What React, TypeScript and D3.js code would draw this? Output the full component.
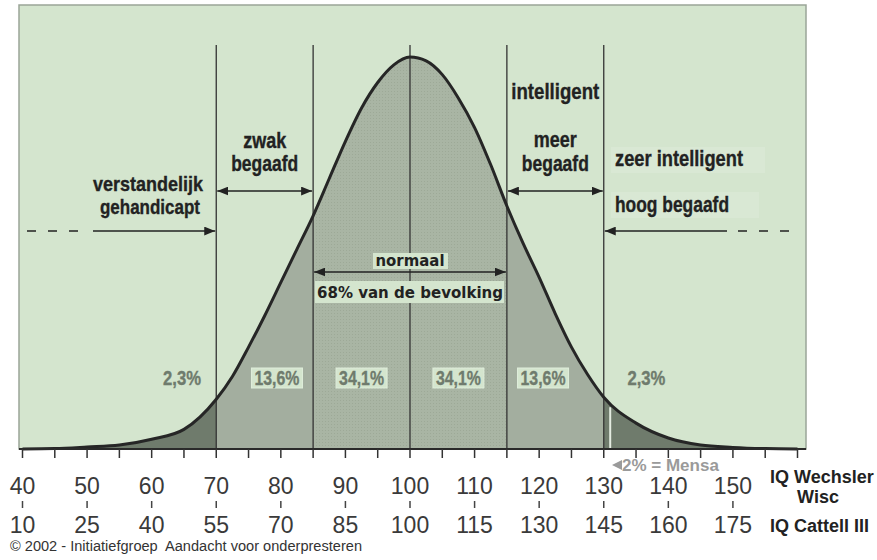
import React from "react";
import * as d3 from "d3";

// curve: relative frequency (peak = 100) per IQ (Wechsler)
const iqPoints = [40, 45, 50, 55, 60, 65, 70, 72.5, 75, 77.5, 80, 82.5, 85, 87.5, 90, 92.5, 95, 97.5, 100, 102.5, 105, 107.5, 110, 112.5, 115, 117.5, 120, 122.5, 125, 127.5, 130, 135, 140, 145, 150, 155, 160];
const frequency = [0, 0.1, 0.5, 1.0, 2.5, 5.0, 12.7, 18.5, 26, 34, 42.5, 51, 59.5, 69, 78.5, 87, 93.5, 98, 100, 99, 95.5, 89.5, 82, 72.5, 62, 52.5, 43.8, 34.5, 26, 19, 13.2, 6.6, 2.8, 1.0, 0.4, 0.1, 0];

// bands between the boundary lines
const bandEdges = [40, 70, 85, 115, 130, 160];
const bandKinds = ["tail", "side", "center", "side", "tail"];
const boundaries = [70, 85, 100, 115, 130];

// percentage labels (IQ position of each label)
const pctLabels = ["2,3%", "13,6%", "34,1%", "34,1%", "13,6%", "2,3%"];
const pctAt = [64.7, 79.4, 92.5, 107.5, 120.6, 136.6];
const pctBoxed = [false, true, true, true, true, false];

// axes
const wechslerTicks = d3.range(40, 161, 5);
const wechslerLabels = [40, 50, 60, 70, 80, 90, 100, 110, 120, 130, 140, 150];
const cattellLabels = [10, 25, 40, 55, 70, 85, 100, 115, 130, 145, 160, 175];
const mensaIQ = 131;

const cond = "'Liberation Sans', Arial, sans-serif";
const wide = "'DejaVu Sans', Verdana, sans-serif";
const sans = "'Liberation Sans', Arial, Helvetica, sans-serif";

const fills: Record<string, string> = {
  tail: "#6f7b6c",
  side: "#a3ae9f",
  center: "url(#dots)",
};

// condensed bold label, squeezed to the width it has in the original
const Label = ({ x, y, w, children, anchor = "middle", size = 21.5 }: any) => (
  <text
    x={x}
    y={y}
    textAnchor={anchor}
    textLength={w}
    lengthAdjust="spacingAndGlyphs"
    fontFamily={cond}
    fontWeight="bold"
    fontSize={size}
    fill="#222"
    stroke="#222"
    strokeWidth={0.35}
  >
    {children}
  </text>
);

export default function App() {
  const width = 877;
  const height = 560;
  const frame = { left: 19, top: 5, right: 806, bottom: 449 };

  const x = d3.scaleLinear().domain([40, 160]).range([22.5, 797.5]);
  const y = d3.scaleLinear().domain([0, 100]).range([frame.bottom, 57]);

  const pts: [number, number][] = iqPoints.map((d, i) => [d, frequency[i]]);

  const line = d3
    .line<[number, number]>()
    .x((d) => x(d[0]))
    .y((d) => y(d[1]))
    .curve(d3.curveMonotoneX);

  const area = d3
    .area<[number, number]>()
    .x((d) => x(d[0]))
    .y0(frame.bottom)
    .y1((d) => y(d[1]))
    .curve(d3.curveMonotoneX);

  const dark = "#222";
  const lineTop = 45;
  const arrowY1 = 191;
  const arrowY2 = 231;
  const midL = (x(70) + x(85)) / 2;
  const midR = (x(115) + x(130)) / 2;

  return (
    <div style={{ position: "absolute", left: 0, top: 0 }}>
      <svg width={width} height={height} style={{ display: "block", background: "#fff" }}>
        <defs>
          <marker
            id="arrow"
            viewBox="0 0 10 8"
            refX={10}
            refY={4}
            markerWidth={11}
            markerHeight={9}
            markerUnits="userSpaceOnUse"
            orient="auto-start-reverse"
          >
            <path d="M0,0 L10,4 L0,8 Z" fill={dark} />
          </marker>
          <pattern id="dots" width={3} height={3} patternUnits="userSpaceOnUse">
            <rect width={3} height={3} fill="#a9b5a4" />
            <rect x={1} y={1} width={1} height={1} fill="#9da997" />
          </pattern>
          {bandKinds.map((k, i) => (
            <clipPath id={`band${i}`} key={i}>
              <rect
                x={x(bandEdges[i])}
                y={0}
                width={x(bandEdges[i + 1]) - x(bandEdges[i])}
                height={frame.bottom}
              />
            </clipPath>
          ))}
        </defs>

        {/* plot background */}
        <rect
          x={frame.left}
          y={frame.top}
          width={frame.right - frame.left}
          height={frame.bottom - frame.top}
          fill="#d4e5ce"
          stroke="#9aa598"
          strokeWidth={1.5}
        />

        {/* area bands */}
        {bandKinds.map((k, i) => (
          <path key={i} d={area(pts) || ""} fill={fills[k]} clipPath={`url(#band${i})`} />
        ))}

        {/* mensa marker */}
        <line
          x1={x(mensaIQ)}
          x2={x(mensaIQ)}
          y1={y(13.2) + 10}
          y2={frame.bottom}
          stroke="#e4ece1"
          strokeWidth={2}
        />

        {/* boundary lines */}
        {boundaries.map((b) => (
          <line key={b} x1={x(b)} x2={x(b)} y1={lineTop} y2={frame.bottom} stroke="#333" strokeWidth={1.3} />
        ))}

        {/* curve */}
        <path d={line(pts) || ""} fill="none" stroke="#262626" strokeWidth={3} strokeLinejoin="round" />

        {/* percentages */}
        {pctLabels.map((t, i) => (
          <g key={i}>
            {pctBoxed[i] && (
              <rect
                x={x(pctAt[i]) - 25.5}
                y={368}
                width={51}
                height={20}
                fill="#d4e5ce"
                stroke="#dfeedb"
                strokeWidth={1}
              />
            )}
            <text
              x={x(pctAt[i])}
              y={385}
              textAnchor="middle"
              textLength={t.length > 4 ? 45 : 38}
              lengthAdjust="spacingAndGlyphs"
              fontFamily={cond}
              fontWeight="bold"
              fontSize={20}
              fill="#6f7b6d"
              stroke="#6f7b6d"
              strokeWidth={0.35}
            >
              {t}
            </text>
          </g>
        ))}

        {/* category labels */}
        <Label x={midL} y={148} w={43}>zwak</Label>
        <Label x={midL} y={171} w={67}>begaafd</Label>
        <Label x={148} y={191} w={110} size={20.5}>verstandelijk</Label>
        <Label x={150} y={214} w={100} size={20.5}>gehandicapt</Label>
        <Label x={midR} y={99} w={88}>intelligent</Label>
        <Label x={midR} y={147} w={43}>meer</Label>
        <Label x={midR} y={171} w={67}>begaafd</Label>

        <rect x={611} y={147} width={154} height={26} fill="#d9e8d4" />
        <rect x={611} y={192} width={148} height={26} fill="#d9e8d4" />
        <Label x={615} y={166} w={128} anchor="start">zeer intelligent</Label>
        <Label x={615} y={212} w={114} anchor="start">hoog begaafd</Label>

        {/* arrows */}
        <line
          x1={x(70) + 1}
          x2={x(85) - 1}
          y1={arrowY1}
          y2={arrowY1}
          stroke={dark}
          strokeWidth={1.5}
          markerStart="url(#arrow)"
          markerEnd="url(#arrow)"
        />
        <line
          x1={x(115) + 1}
          x2={x(130) - 1}
          y1={arrowY1}
          y2={arrowY1}
          stroke={dark}
          strokeWidth={1.5}
          markerStart="url(#arrow)"
          markerEnd="url(#arrow)"
        />
        <line x1={27} x2={88} y1={arrowY2} y2={arrowY2} stroke={dark} strokeWidth={1.5} strokeDasharray="9,12" />
        <line x1={93} x2={x(70) - 1} y1={arrowY2} y2={arrowY2} stroke={dark} strokeWidth={1.5} markerEnd="url(#arrow)" />
        <line x1={727} x2={x(130) + 1} y1={arrowY2} y2={arrowY2} stroke={dark} strokeWidth={1.5} markerEnd="url(#arrow)" />
        <line x1={738} x2={797} y1={arrowY2} y2={arrowY2} stroke={dark} strokeWidth={1.5} strokeDasharray="9,12" />

        {/* normaal */}
        <rect x={373} y={253} width={75} height={16} fill="#d4e5ce" />
        <rect x={315} y={281} width={189} height={22} fill="#d4e5ce" />
        <line
          x1={x(85) + 1}
          x2={x(115) - 1}
          y1={272}
          y2={272}
          stroke={dark}
          strokeWidth={1.5}
          markerStart="url(#arrow)"
          markerEnd="url(#arrow)"
        />
        <g fontFamily={wide} fontWeight="bold" fontSize={15} fill={dark} textAnchor="middle">
          <text x={x(100)} y={266} textLength={69} lengthAdjust="spacingAndGlyphs">normaal</text>
          <text x={x(100)} y={298} textLength={186} lengthAdjust="spacingAndGlyphs">68% van de bevolking</text>
        </g>

        {/* x axis */}
        <line x1={frame.left} x2={frame.right} y1={frame.bottom} y2={frame.bottom} stroke="#2a2a2a" strokeWidth={2} />
        {wechslerTicks.map((t) => (
          <line key={t} x1={x(t)} x2={x(t)} y1={frame.bottom} y2={458} stroke="#333" strokeWidth={1.5} />
        ))}

        {/* mensa note */}
        <path d="M612,465 L622,460 L622,470 Z" fill="#9a9a9a" />
        <text x={622} y={471} fontFamily={sans} fontWeight="bold" fontSize={17} fill="#9a9a9a">
          2% = Mensa
        </text>

        {/* Wechsler / Cattell labels */}
        <g fontFamily={sans} fontSize={23} fill="#3a3a3a" textAnchor="middle">
          {wechslerLabels.map((t) => (
            <text key={t} x={x(t)} y={494}>
              {t}
            </text>
          ))}
          {cattellLabels.map((t, i) => (
            <text key={t} x={x(wechslerLabels[i])} y={533}>
              {t}
            </text>
          ))}
        </g>
        {wechslerLabels.map((t) => (
          <line key={t} x1={x(t)} x2={x(t)} y1={501} y2={508} stroke="#444" strokeWidth={1.5} />
        ))}

        <g fontFamily={sans} fontWeight="bold" fontSize={18} fill="#222">
          <text x={770} y={483}>IQ Wechsler</text>
          <text x={818} y={503} textAnchor="middle">Wisc</text>
          <text x={770} y={532}>IQ Cattell III</text>
        </g>

        <text
          x={10}
          y={551}
          fontFamily={sans}
          fontSize={14}
          fill="#333"
          textLength={352}
          lengthAdjust="spacingAndGlyphs"
          style={{ whiteSpace: "pre" }}
        >
          © 2002 - Initiatiefgroep  Aandacht voor onderpresteren
        </text>
      </svg>
    </div>
  );
}
